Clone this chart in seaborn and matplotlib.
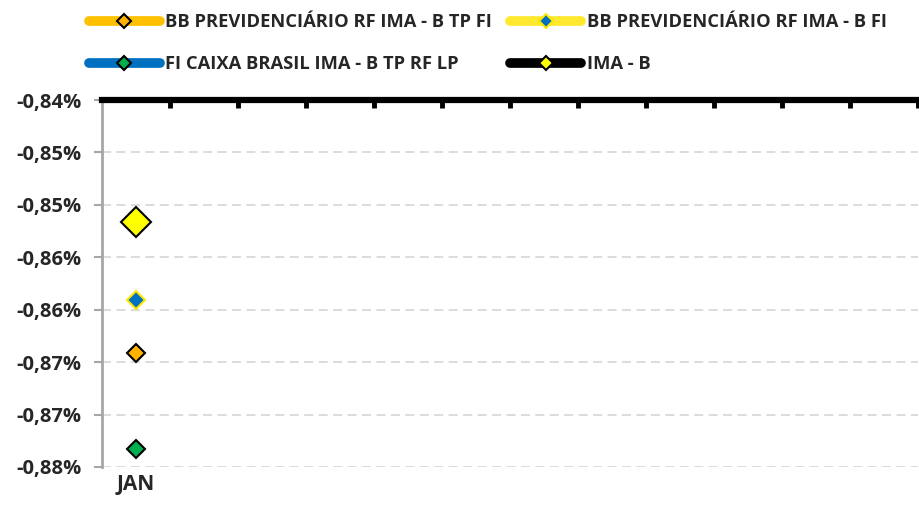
import matplotlib
matplotlib.use('Agg')
import matplotlib.pyplot as plt
from matplotlib.lines import Line2D
import seaborn as sns
import numpy as np
import pandas as pd

# Data (percent)
months = ['JAN', '', '', '', '', '', '', '', '', '', '', '']
series_names = ['BB PREVIDENCIÁRIO RF IMA - B TP FI',
                'BB PREVIDENCIÁRIO RF IMA - B FI',
                'FI CAIXA BRASIL IMA - B TP RF LP',
                'IMA - B']
bb_tp_fi = [-0.8641]
bb_fi = [-0.8591]
caixa = [-0.8733]
ima_b = [-0.8516]
y_ticks = [-0.840, -0.845, -0.850, -0.855, -0.860, -0.865, -0.870, -0.875]
y_tick_labels = ['-0,84%', '-0,85%', '-0,85%', '-0,86%', '-0,86%', '-0,87%', '-0,87%', '-0,88%']

sns.set_style('white')
plt.rcParams['font.family'] = ['Open Sans', 'DejaVu Sans']
plt.rcParams['font.weight'] = 'bold'

fig = plt.figure(figsize=(9.19, 5.19), dpi=100)
ax = fig.add_axes([0.111, 0.1002, 0.888, 0.7071])

# style per series: line colour (legend), marker face, marker edge, marker size
styles = {
    series_names[0]: ('#FFC000', '#FFB300', 'black', 9),
    series_names[1]: ('#FFE82E', '#0070C0', '#FFE600', 9),
    series_names[2]: ('#0070C0', '#00B050', 'black', 9),
    series_names[3]: ('black', '#FFFF00', 'black', 15),
}
values = {series_names[0]: bb_tp_fi, series_names[1]: bb_fi,
          series_names[2]: caixa, series_names[3]: ima_b}

for name in [series_names[2], series_names[0], series_names[1], series_names[3]]:
    vals = values[name]
    df = pd.DataFrame({'x': np.arange(len(vals)), 'y': vals})
    lc, fc, ec, ms = styles[name]
    sns.lineplot(data=df, x='x', y='y', ax=ax, color=lc, marker='D',
                 markersize=ms, markerfacecolor=fc, markeredgecolor=ec,
                 markeredgewidth=1.5, linewidth=5, zorder=5)

ax.set_xlim(-0.5, len(months) - 0.5)
ax.set_ylim(-0.875, -0.84)
ax.set_yticks(y_ticks)
ax.set_yticklabels(y_tick_labels, fontsize=14.5, fontweight='bold')
ax.set_xticks(np.arange(len(months)))
ax.set_xticklabels(months, fontsize=15, fontweight='bold')
ax.set_xticks(np.arange(len(months)) + 0.5, minor=True)
ax.set_xlabel('')
ax.set_ylabel('')

ax.yaxis.grid(True, linestyle=(0, (5, 3)), color='#D9D9D9', linewidth=1.3)
ax.xaxis.grid(False)

for s in ['right', 'bottom']:
    ax.spines[s].set_visible(False)
ax.spines['left'].set_color('#A6A6A6')
ax.spines['left'].set_linewidth(2)
ax.spines['top'].set_color('black')
ax.spines['top'].set_linewidth(4.5)

ax.tick_params(axis='y', which='major', left=True, length=6, width=1.5,
               color='#A6A6A6', pad=9)
ax.tick_params(axis='x', which='major', bottom=True, length=0, pad=5)
ax.tick_params(axis='x', which='minor', top=True, bottom=False,
               direction='in', length=6, width=3.5, color='black')

handles = []
order = [0, 2, 1, 3]
for i in order:
    name = series_names[i]
    lc, fc, ec, ms = styles[name]
    handles.append(Line2D([0], [0], color=lc, linewidth=7, solid_capstyle='round',
                          marker='D', markersize=7, markerfacecolor=fc,
                          markeredgecolor=ec, markeredgewidth=1.5))
leg = fig.legend(handles, [series_names[i] for i in order], ncol=2,
                 loc='upper left', bbox_to_anchor=(0.097, 0.974), frameon=False,
                 borderaxespad=0, borderpad=0,
                 handlelength=3.85, handletextpad=0.3, columnspacing=1.0,
                 labelspacing=1.3, prop={'size': 13.2, 'weight': 'bold'})

fig.savefig('out.png', dpi=100)
